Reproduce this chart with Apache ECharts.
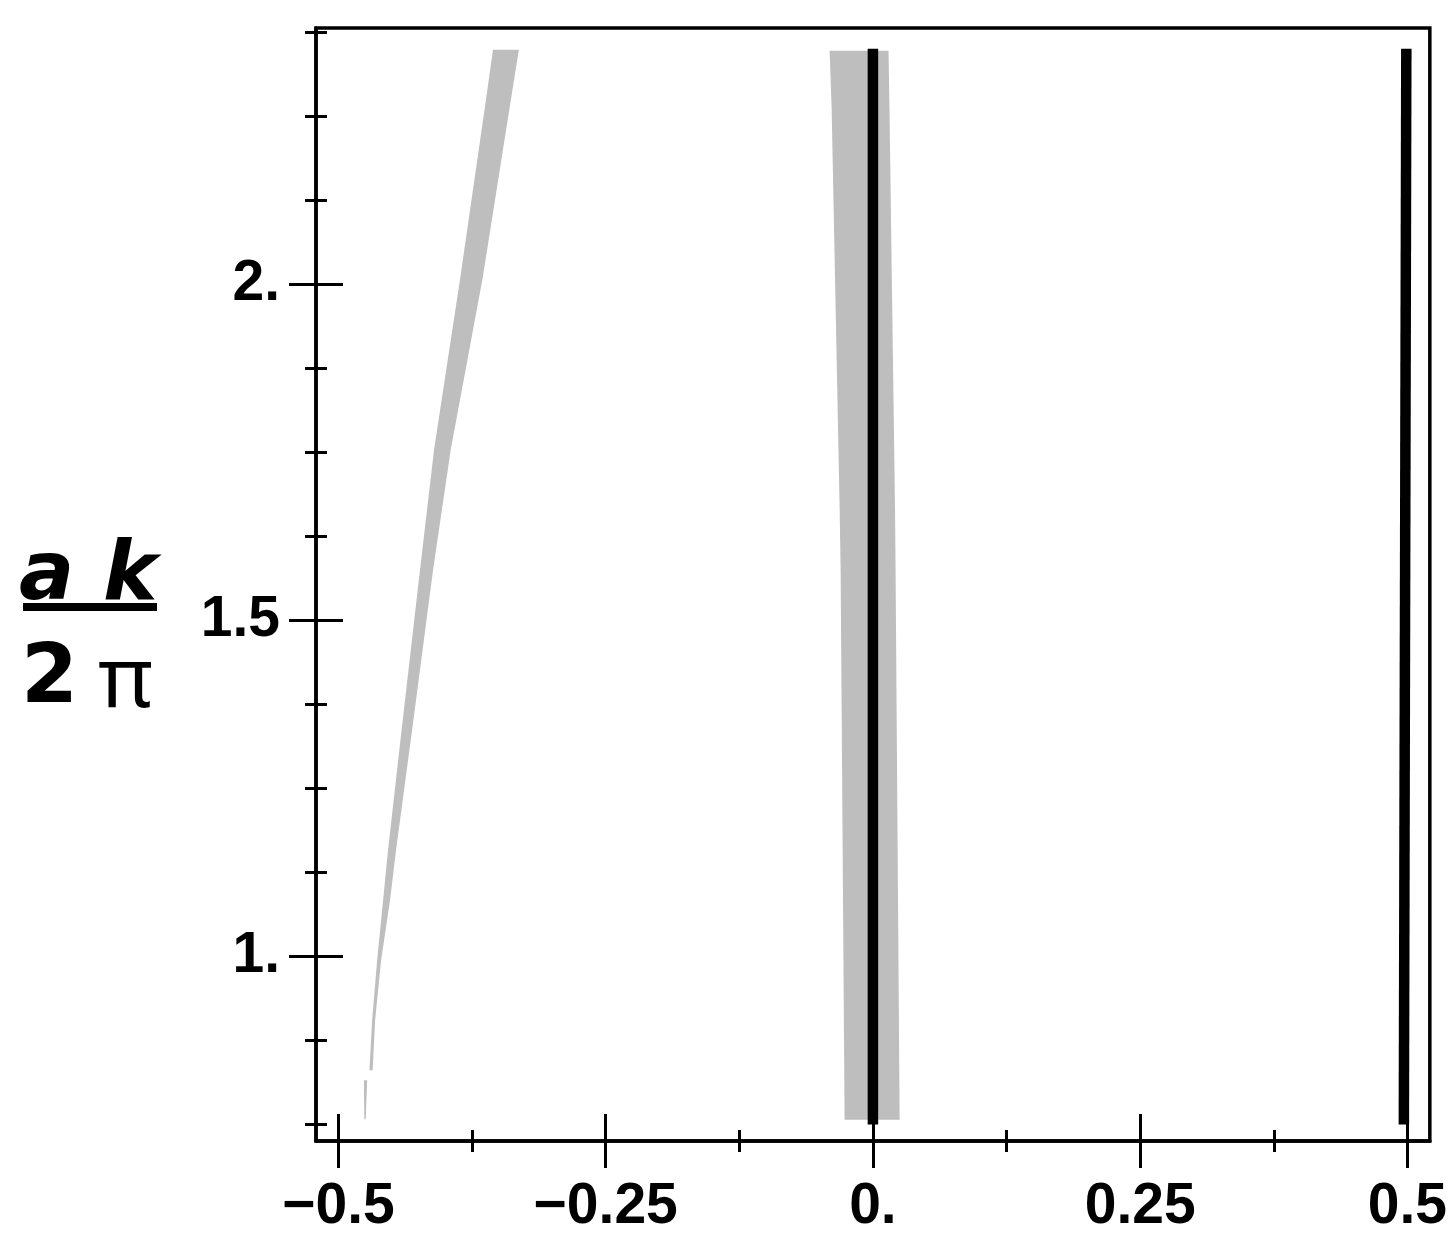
<!DOCTYPE html>
<html>
<head>
<meta charset="utf-8">
<script src="https://cdn.jsdelivr.net/npm/echarts@6/dist/echarts.min.js"></script>
<style>
html,body{margin:0;padding:0;background:#fff;}
#chart{width:1450px;height:1243px;}
</style>
</head>
<body>
<div id="chart"></div>
<script>
// ---- data ----
const xRange = [-0.521, 0.521];
const yRange = [0.7255, 2.381];

const xTickValues = [-0.5, -0.25, 0, 0.25, 0.5];
const xTickLabels = ['\u22120.5', '\u22120.25', '0.', '0.25', '0.5'];
const xMinorTicks = [-0.375, -0.125, 0.125, 0.375];

const yTickValues = [1, 1.5, 2];
const yTickLabels = ['1.', '1.5', '2.'];
const yMinorTicks = [0.75, 0.875, 1.125, 1.25, 1.375, 1.625, 1.75, 1.875, 2.125, 2.25, 2.375];

// black lines
const lineAtZero = [[0, 0.75], [0, 2.35]];
const lineAtHalf = [[0.4967, 0.75], [0.499, 2.35]];

// gray band around zero: left edge (top->bottom), right edge (top->bottom)
const bandLeft = [[-0.0405, 2.347], [-0.0386, 2.26], [-0.0311, 1.664], [-0.0302, 1.575], [-0.0265, 0.757]];
const bandRight = [[0.0146, 2.347], [0.0155, 2.26], [0.0207, 1.664], [0.0212, 1.575], [0.0250, 0.757]];

// gray wedge on the left
const wedgeLeft = [[-0.3554, 2.3487], [-0.3620, 2.2742], [-0.3860, 2.01], [-0.4106, 1.7534], [-0.4237, 1.5748], [-0.4400, 1.35],
                   [-0.4536, 1.1582], [-0.4582, 1.0838], [-0.4638, 0.9945], [-0.4685, 0.9052], [-0.4710, 0.8308]];
const wedgeRight = [[-0.3312, 2.3487], [-0.3387, 2.2742], [-0.3650, 2.01], [-0.3950, 1.7534], [-0.4115, 1.5748], [-0.4300, 1.35],
                    [-0.4461, 1.1582], [-0.4517, 1.0838], [-0.4601, 0.9945], [-0.4657, 0.9052], [-0.4680, 0.8308]];
const sliverLeft = [[-0.4762, 0.816], [-0.4758, 0.758]];
const sliverRight = [[-0.4731, 0.816], [-0.4745, 0.758]];

function poly(left, right) { return left.concat(right.slice().reverse()); }
const grayPolygons = [poly(wedgeLeft, wedgeRight), poly(sliverLeft, sliverRight), poly(bandLeft, bandRight)];

// ---- chart ----
const chart = echarts.init(document.getElementById('chart'), null, {renderer: 'canvas'});
const labelFont = {fontFamily: 'Liberation Sans', fontWeight: 'bold', fontSize: 57, color: '#000'};
function mapLabel(vals, labs) {
  return v => { const i = vals.findIndex(t => Math.abs(t - v) < 1e-9); return i >= 0 ? labs[i] : ''; };
}
const black = '#000';
function tickAxis(base, values, len, offset) {
  return Object.assign({
    type: 'value', min: base.min, max: base.max, offset: offset,
    axisLine: {show: false, onZero: false},
    axisLabel: {show: false},
    splitLine: {show: false},
    axisTick: {show: true, length: len, inside: false, customValues: values, lineStyle: {color: black, width: 3}}
  }, base.pos);
}

const option = {
  animation: false,
  backgroundColor: '#fff',
  grid: {left: 316, top: 28, right: 20, bottom: 102, show: true, borderColor: black, borderWidth: 3.5, backgroundColor: 'transparent'},
  xAxis: [
    {
      type: 'value', min: xRange[0], max: xRange[1], position: 'bottom',
      axisLine: {show: true, onZero: false, lineStyle: {color: black, width: 3.5}},
      axisTick: {show: false},
      splitLine: {show: false},
      axisLabel: Object.assign({show: true, margin: 38, customValues: xTickValues,
        formatter: mapLabel(xTickValues, xTickLabels)}, labelFont)
    },
    tickAxis({min: xRange[0], max: xRange[1], pos: {position: 'bottom'}}, xTickValues, 54, -27),
    tickAxis({min: xRange[0], max: xRange[1], pos: {position: 'bottom'}}, xMinorTicks, 22, -11)
  ],
  yAxis: [
    {
      type: 'value', min: yRange[0], max: yRange[1], position: 'left',
      axisLine: {show: true, onZero: false, lineStyle: {color: black, width: 3.5}},
      axisTick: {show: false},
      splitLine: {show: false},
      axisLabel: Object.assign({show: true, margin: 36, customValues: yTickValues,
        formatter: mapLabel(yTickValues, yTickLabels)}, labelFont)
    },
    tickAxis({min: yRange[0], max: yRange[1], pos: {position: 'left'}}, yTickValues, 54, -27),
    tickAxis({min: yRange[0], max: yRange[1], pos: {position: 'left'}}, yMinorTicks, 22, -11)
  ],
  series: [
    {
      type: 'custom', z: 1, silent: true,
      data: grayPolygons.map((p, i) => [p[0][0], p[0][1], i]),
      renderItem: function (params, api) {
        const pts = grayPolygons[params.dataIndex].map(p => api.coord(p));
        return {type: 'polygon', shape: {points: pts}, style: {fill: '#bebebe', stroke: null}};
      }
    },
    {type: 'line', z: 3, data: lineAtZero, symbol: 'none', lineStyle: {color: black, width: 10.5, cap: 'butt'}},
    {type: 'line', z: 3, data: lineAtHalf, symbol: 'none', lineStyle: {color: black, width: 10.5, cap: 'butt'}}
  ],
  graphic: [
    {type: 'text', x: 19, y: 578, style: {text: 'a k', font: 'italic bold 82px "DejaVu Sans"', fill: black, verticalAlign: 'middle', align: 'left'}},
    {type: 'rect', x: 23, y: 603, shape: {width: 134, height: 8}, style: {fill: black}},
    {type: 'text', x: 21, y: 681, style: {text: '2', font: 'bold 82px "DejaVu Sans"', fill: black, verticalAlign: 'middle', align: 'left'}},
    {type: 'text', x: 98, y: 683, style: {text: '\u03c0', font: '84px "Noto Sans"', fill: black, verticalAlign: 'middle', align: 'left'}}
  ]
};
chart.setOption(option);
</script>
</body>
</html>
